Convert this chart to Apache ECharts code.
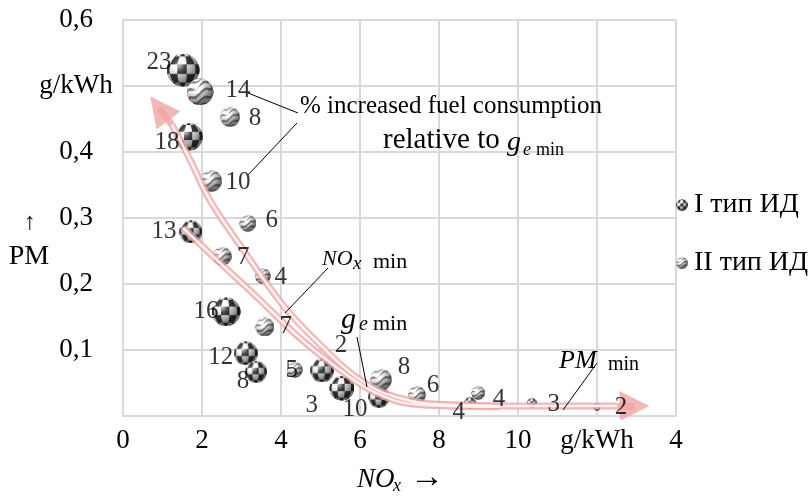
<!DOCTYPE html>
<html>
<head>
<meta charset="utf-8">
<script src="https://cdn.jsdelivr.net/npm/echarts@6/dist/echarts.min.js"></script>
<style>
html, body { margin: 0; padding: 0; background: #fff; }
#chart { width: 810px; height: 499px; }
</style>
</head>
<body>
<div id="chart"></div>
<script>
// type I engines (checkered balls): [NOx, PM]
var typeI = [[1.52,0.524],[1.67,0.423],[1.72,0.279],[2.61,0.158],[3.11,0.095],[3.37,0.067],
             [5.04,0.069],[5.54,0.042],[6.48,0.029],[8.78,0.020],[10.35,0.020],[12.0,0.014]];
var pctI  = ['23','18','13','16','12','8','2','3','10','4','3','2'];
var diamI = [33,28,23,29,24,22,24,25,22,12,10,8];

// type II engines (striped balls)
var typeII = [[1.95,0.491],[2.71,0.453],[2.23,0.356],[3.16,0.292],[2.51,0.242],[3.54,0.212],
              [3.59,0.135],[4.35,0.070],[6.53,0.055],[7.44,0.032],[8.99,0.035]];
var pctII  = ['14','8','10','6','7','4','7','5','8','6','4'];
var diamII = [27,20,22,17,19,16,19,16,22,18,14];

// label offsets (px) from ball centre
var offI  = [[-24,-8],[-22,6],[-27,0],[-20,0],[-25,4],[-13,10],[19,-25],[-30,17],[-24,13],[-11,10],[22,2],[24,1]];
var offII = [[38,-2],[25,1],[27,1],[24,-3],[21,1],[18,1],[21,0],[-3,1],[23,-12],[16,-9],[21,7]];

// pink trend arrows (in data units)
var curveUpper = [[1.24,0.441],[1.70,0.388],[2.20,0.327],[2.96,0.259],[4.05,0.168],[4.99,0.108],
                  [6.0,0.055],[7.01,0.027],[8.28,0.017],[10.81,0.015],[12.5,0.015]];
var curveLower = [[1.52,0.285],[2.33,0.239],[3.34,0.183],[4.48,0.118],[5.49,0.070],[6.51,0.032],
                  [7.52,0.017],[9.54,0.014]];
var headUpper = [[1.24,0.441],[0.92,0.466]];
var headRight = [[12.5,0.015],[12.95,0.015]];

var xLabels = {0:'0',2:'2',4:'4',6:'6',8:'8',10:'10',12:'g/kWh',14:'4'};
var yLabels = {0:'',1:'0,1',2:'0,2',3:'0,3',4:'0,4',5:'g/kWh',6:'0,6'};

var serif = '"Liberation Serif", "DejaVu Serif", serif';
var gridCol = '#d9d9d9';
var pink = 'rgba(240,165,165,0.8)';

// shaded ball with a checker or wavy-stripe skin
function ball(kind) {
  var n = 96, R = n / 2;
  var c = document.createElement('canvas');
  c.width = c.height = n;
  var g = c.getContext('2d');
  var img = g.createImageData(n, n);
  var L = [-0.45, -0.55, 0.70], ll = Math.hypot(L[0], L[1], L[2]);
  L = L.map(function (v) { return v / ll; });
  var H = [L[0], L[1], L[2] + 1], hl = Math.hypot(H[0], H[1], H[2]);
  H = H.map(function (v) { return v / hl; });
  for (var y = 0; y < n; y++) {
    for (var x = 0; x < n; x++) {
      var dx = (x + 0.5 - R) / R, dy = (y + 0.5 - R) / R;
      var rr = Math.sqrt(dx * dx + dy * dy);
      if (rr > 1) continue;
      var nz = Math.sqrt(Math.max(0, 1 - rr * rr));
      var u = Math.atan2(dx, nz) / (Math.PI / 2);
      var v = Math.asin(Math.max(-1, Math.min(1, dy))) / (Math.PI / 2);
      var base;
      if (kind === 'checker') {
        var k = Math.floor((u + 1) * 2.6) + Math.floor((v + 1) * 2.6);
        base = (k % 2 === 0) ? 60 : 245;
      } else {
        var s = (u * 0.45 + v) * 2.6 + 0.22 * Math.sin(u * 7);
        base = (s - Math.floor(s) < 0.35) ? 130 : 250;
      }
      var diff = Math.max(0, dx * L[0] + dy * L[1] + nz * L[2]);
      var spec = Math.pow(Math.max(0, dx * H[0] + dy * H[1] + nz * H[2]), 25);
      var val = Math.min(255, base * (0.45 + 0.6 * diff) + 120 * spec);
      var i = (y * n + x) * 4;
      img.data[i] = img.data[i + 1] = img.data[i + 2] = val;
      img.data[i + 3] = Math.min(1, (1 - rr) * R * 0.9) * 255;
    }
  }
  g.putImageData(img, 0, 0);
  return 'image://' + c.toDataURL();
}
var iconI = ball('checker');
var iconII = ball('stripes');

function withSize(pts, d) {
  return pts.map(function (p, i) { return [p[0], p[1], d[i]]; });
}
function labelData(pts, txt, off) {
  return pts.map(function (p, i) {
    return {value: p, label: {formatter: txt[i], offset: off[i]}};
  });
}

function txt(x, y, s, size, italic, align) {
  return {
    type: 'text', z: 10, silent: true,
    style: {x: x, y: y, text: s, fill: '#000', align: align || 'left', verticalAlign: 'middle',
            font: (italic ? 'italic ' : '') + size + 'px ' + serif}
  };
}
function seg(x1, y1, x2, y2) {
  return {type: 'line', z: 10, silent: true, shape: {x1: x1, y1: y1, x2: x2, y2: y2},
          style: {stroke: '#000', lineWidth: 1}};
}

var chart = echarts.init(document.getElementById('chart'));

var series = [{
  name: 'I тип ИД', type: 'scatter', z: 2, symbol: iconI,
  data: withSize(typeI, diamI),
  symbolSize: function (v) { return v[2]; },
  itemStyle: {opacity: 1}
}, {
  name: 'II тип ИД', type: 'scatter', z: 2, symbol: iconII,
  data: withSize(typeII, diamII),
  symbolSize: function (v) { return v[2]; },
  itemStyle: {opacity: 1}
}];

[curveUpper, curveLower].forEach(function (c) {
  series.push({type: 'line', data: c, smooth: 0.4, symbol: 'none', z: 4, silent: true,
               lineStyle: {color: pink, width: 7}});
  series.push({type: 'line', data: c, smooth: 0.4, symbol: 'none', z: 5, silent: true,
               lineStyle: {color: 'rgba(255,255,255,0.85)', width: 2.5}});
});
series.push({
  type: 'lines', coordinateSystem: 'cartesian2d', z: 5, silent: true,
  symbol: ['none', 'triangle'], symbolSize: 30,
  lineStyle: {color: pink, width: 7, opacity: 1},
  itemStyle: {color: pink},
  data: [{coords: headUpper}, {coords: headRight}]
});

[[typeI, pctI, offI], [typeII, pctII, offII]].forEach(function (s) {
  series.push({
    type: 'scatter', z: 6, silent: true, symbolSize: 1,
    itemStyle: {color: 'rgba(0,0,0,0)'},
    label: {show: true, position: 'inside', color: '#000', fontFamily: serif, fontSize: 25},
    data: labelData(s[0], s[1], s[2])
  });
});

var option = {
  animation: false,
  grid: {left: 123, top: 20, width: 553, height: 396},
  legend: {
    data: [{name: 'I тип ИД', icon: iconI}, {name: 'II тип ИД', icon: iconII}],
    orient: 'vertical', left: 671, top: 186,
    itemWidth: 12, itemHeight: 12, itemGap: 30,
    textStyle: {fontFamily: serif, fontSize: 28, color: '#000', padding: [0, 0, 0, 1]}
  },
  xAxis: {
    type: 'value', min: 0, max: 14, interval: 2,
    axisLine: {show: true, lineStyle: {color: gridCol, width: 2}},
    axisTick: {show: false},
    splitLine: {lineStyle: {color: gridCol, width: 2}},
    axisLabel: {color: '#000', fontFamily: serif, fontSize: 27, margin: 11,
                formatter: function (v) { return xLabels[v]; }}
  },
  yAxis: {
    type: 'value', min: 0, max: 0.6, interval: 0.1,
    axisLine: {show: true, lineStyle: {color: gridCol, width: 2}},
    axisTick: {show: false},
    splitLine: {lineStyle: {color: gridCol, width: 2}},
    axisLabel: {color: '#000', fontFamily: serif, fontSize: 27, margin: 47, align: 'center',
                formatter: function (v) { return yLabels[Math.round(v * 10)]; }}
  },
  graphic: [
    txt(30, 223, '↑', 24, false, 'center'),
    txt(29, 257, 'PM', 28, false, 'center'),
    txt(357, 480, 'NO', 27, true),
    txt(393, 486, 'x', 18, true),
    txt(410, 478, '→', 34, false),
    txt(451, 106, '% increased fuel consumption', 25, false, 'center'),
    txt(383, 140, 'relative to', 29, false),
    txt(507, 143, 'g', 28, true),
    txt(523, 150, 'e', 18, true),
    txt(536, 150, 'min', 18, false),
    txt(322, 259, 'NO', 22, true),
    txt(353, 264, 'x', 19, true),
    txt(373, 262, 'min', 22, false),
    txt(341, 320, 'g', 30, true),
    txt(359, 325, 'e', 20, true),
    txt(373, 324, 'min', 22, false),
    txt(559, 361, 'PM', 26, true),
    txt(608, 365, 'min', 20, false),
    seg(248, 93, 298, 113),
    seg(248, 175, 297, 123),
    seg(328, 268, 285, 313),
    seg(357, 337, 367, 387),
    seg(597, 363, 563, 410)
  ],
  series: series
};
chart.setOption(option);
</script>
</body>
</html>
